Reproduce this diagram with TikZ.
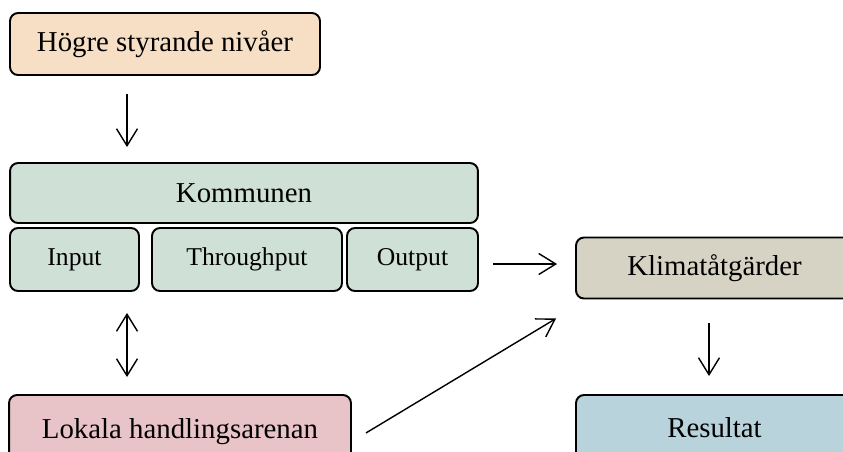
\documentclass[tikz,border=0pt]{standalone}
\usepackage{fontspec}
\setmainfont{Liberation Serif}
\usetikzlibrary{arrows.meta,calc}
\definecolor{peach}{RGB}{246,223,196}
\definecolor{sage}{RGB}{207,224,214}
\definecolor{stone}{RGB}{214,211,196}
\definecolor{rosa}{RGB}{232,196,200}
\definecolor{isbla}{RGB}{185,211,220}
\tikzset{
  >={Straight Barb[length=0.34cm,width=0.42cm]},
  ruta/.style={
    rectangle,
    rounded corners=0.16cm,
    draw=black, line width=1.1pt,
    minimum height=1.24cm,
    text centered,
    font=\fontsize{16.4}{19.7}\selectfont},
  delruta/.style={
    ruta,
    minimum height=1.26cm,
    font=\fontsize{14.6}{17.5}\selectfont},
  pil/.style={draw, line width=0.8pt, ->},
}
\begin{document}
\begin{tikzpicture}
  [x=0.02cm, y=-0.02cm]
  \clip (0,0) rectangle (843,451);

  \node[ruta, fill=peach, minimum width=6.2cm] (hogre) at (165,44) {Högre styrande nivåer};
  \node[ruta, fill=sage, minimum width=9.36cm, minimum height=1.2cm] (kommun) at (244,193) {Kommunen};
  \node[delruta, fill=sage, minimum width=2.58cm] (input) at (74.5,259.5) {Input};
  \node[delruta, fill=sage, minimum width=3.8cm] (through) at (247,259.5) {Throughput};
  \node[delruta, fill=sage, minimum width=2.62cm] (output) at (412.5,259.5) {Output};
  \node[ruta, fill=stone, minimum width=5.54cm, minimum height=1.22cm] (klimat) at (714.5,268) {Klimatåtgärder};
  \node[ruta, fill=isbla, minimum width=5.54cm, minimum height=1.32cm] (resultat) at (714.5,428) {Resultat};
  \node[ruta, fill=rosa, minimum width=6.84cm, minimum height=1.48cm] (lokala) at (180,432) {Lokala handlingsarenan};

  \coordinate (ax) at (127,0);
  \coordinate (ay) at (0,264);
  \coordinate (kx) at (709,0);

  \draw[pil, shorten <=0.36cm, shorten >=0.3cm] (hogre.south -| ax) -- (kommun.north -| ax);
  \draw[pil, <->, shorten <=0.42cm, shorten >=0.34cm] (input.south -| ax) -- (lokala.north -| ax);
  \draw[pil, shorten <=0.28cm, shorten >=0.36cm] (output.east |- ay) -- (klimat.west |- ay);
  \draw[pil] ([shift={(14,1)}]lokala.east) -- ([shift={(-19,19)}]klimat.south west);
  \draw[pil, shorten <=0.48cm, shorten >=0.36cm] (klimat.south -| kx) -- (resultat.north -| kx);
\end{tikzpicture}
\end{document}
